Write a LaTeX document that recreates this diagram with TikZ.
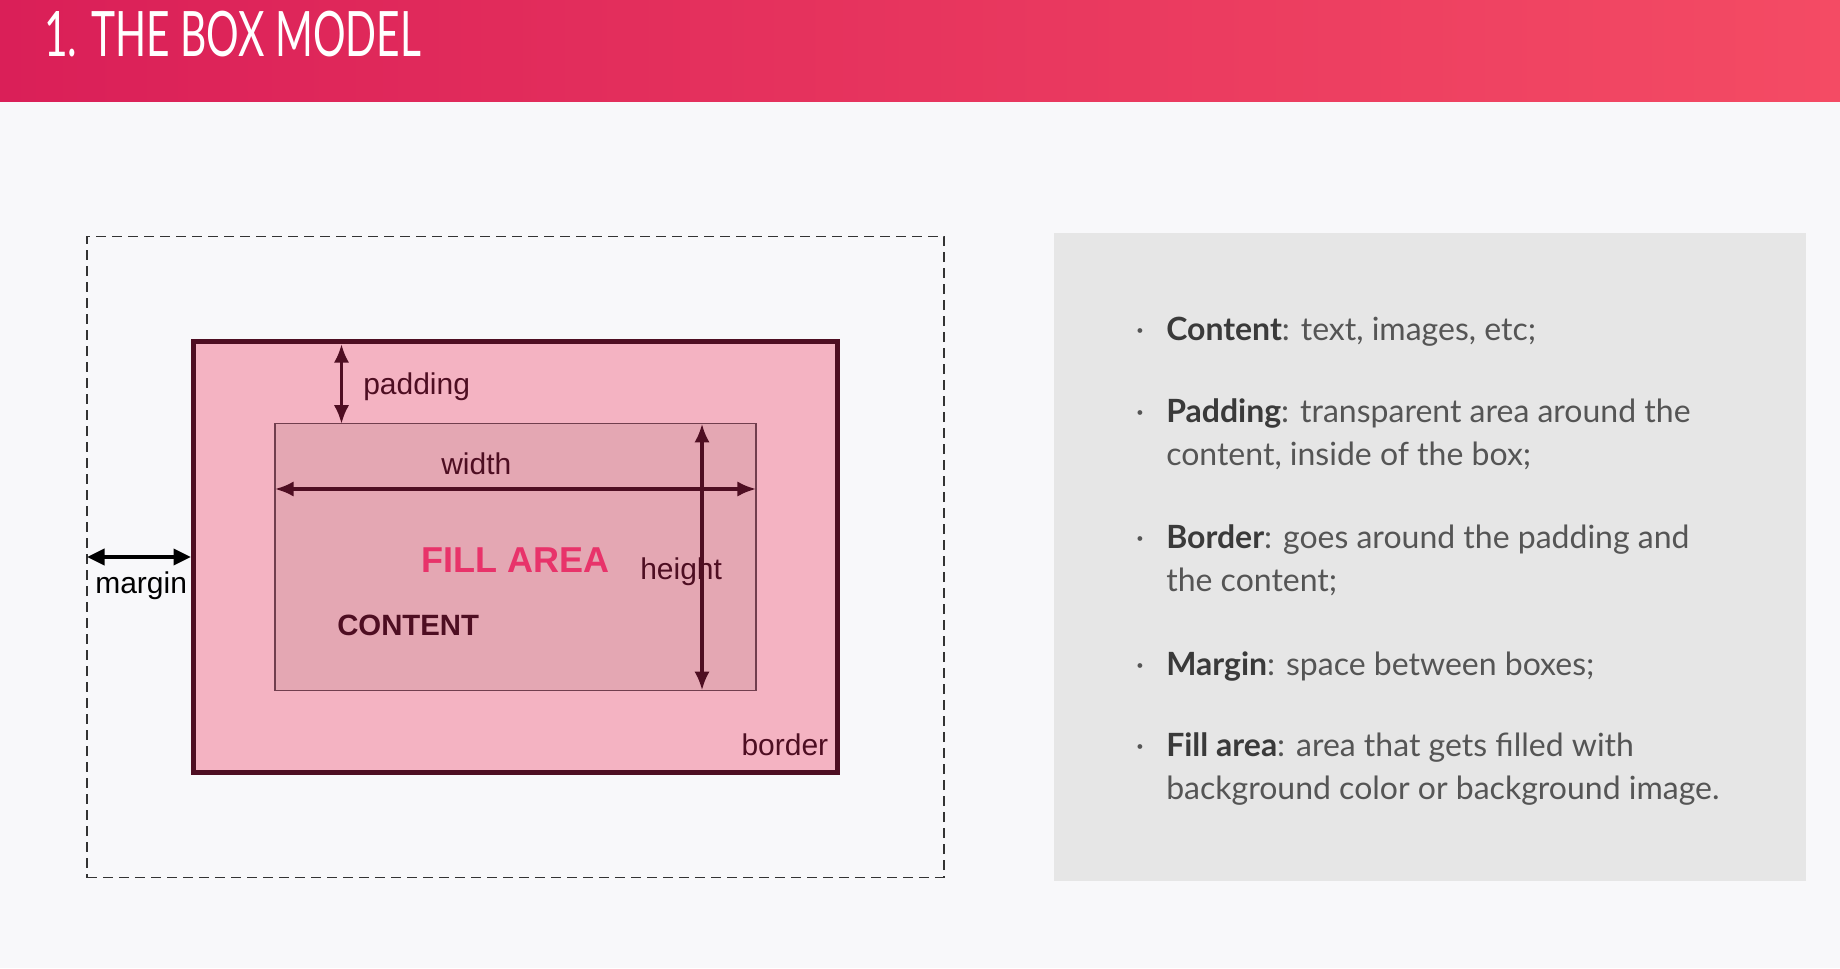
\documentclass[tikz,border=0pt]{standalone}
\usepackage{fontspec}
\usepackage{tikz}
\usetikzlibrary{arrows.meta}
\setmainfont{Liberation Sans}
\newfontfamily\listfont{Lato}
\newfontfamily\titlefont{Lato}[FakeStretch=0.65]

\definecolor{pagebg}{HTML}{F8F8FA}
\definecolor{hdrleft}{HTML}{DA1F58}
\definecolor{hdrright}{HTML}{F44B64}
\definecolor{panelgray}{HTML}{E6E6E6}
\definecolor{borderpink}{HTML}{F4B3C2}
\definecolor{contentpink}{HTML}{E4A7B3}
\definecolor{boxmaroon}{HTML}{4E0E22}
\definecolor{fillred}{HTML}{E8336A}
\definecolor{listgray}{HTML}{555555}
\definecolor{listdark}{HTML}{3A3A3A}

\begin{document}
\begin{tikzpicture}[x=0.75pt,y=0.75pt,yscale=-1,xscale=1,
    marginbox/.style={draw=black!80, line width=1.4pt, dash pattern=on 7.5pt off 4.5pt, minimum width=642.5pt, minimum height=480.8pt, inner sep=0pt, outer sep=0pt},
    borderbox/.style={fill=borderpink, draw=boxmaroon, line width=3.5pt, minimum width=483.3pt, minimum height=322.9pt, inner sep=0pt, outer sep=0pt},
    contentbox/.style={fill=contentpink, draw=boxmaroon!80, line width=1pt, minimum width=360.8pt, minimum height=199.8pt, inner sep=0pt, outer sep=0pt},
    dimarrow/.style={draw=boxmaroon, line width=2.4pt, {Latex[length=14pt,width=11.5pt]}-{Latex[length=14pt,width=11.5pt]}},
    marginarrow/.style={draw=black, line width=2.6pt, {Triangle[length=13pt,width=12pt]}-{Triangle[length=13pt,width=12pt]}},
    dimlabel/.style={font=\fontsize{22.5}{27}\selectfont, text=boxmaroon, inner sep=0pt},
    itemtext/.style={anchor=base west, inner sep=0pt, text=listgray, font=\listfont\fontsize{24}{31.6}\selectfont},
    dotmark/.style={anchor=base, inner sep=0pt, text=listgray, font=\listfont\fontsize{24}{31.6}\selectfont}
]
\useasboundingbox (0,0) rectangle (1840,968);
\fill[pagebg] (0,0) rectangle (1840,968);

% header
\shade[left color=hdrleft, right color=hdrright] (0,0) rectangle (1840,101);
\node[anchor=base west, inner sep=0pt, text=white, font=\titlefont\fontsize{47}{50}\selectfont] (title) at (44,56.7) {1. THE BOX MODEL};

% box model
\coordinate (mid) at (515.5,557);
\node[marginbox] (marginbox) at (mid) {};
\node[borderbox] (borderbox) at (mid) {};
\node[contentbox] (contentbox) at (mid) {};

\coordinate (padx) at (341.5,0);
\coordinate (widy) at (0,489);
\coordinate (heix) at (702,0);
\draw[dimarrow, shorten <=1.75pt] (borderbox.north -| padx) -- (contentbox.north -| padx);
\draw[dimarrow] (contentbox.west |- widy) -- (contentbox.east |- widy);
\draw[dimarrow] (contentbox.north -| heix) -- (contentbox.south -| heix);
\draw[marginarrow, shorten >=1.75pt] (marginbox.west) -- (borderbox.west);

\node[dimlabel, anchor=base west] (padlabel) at (363,394) {padding};
\node[dimlabel, anchor=base west] (widlabel) at (441,474) {width};
\node[dimlabel, anchor=base west] (heilabel) at (640,579) {height};
\node[dimlabel, anchor=base west, text=black] (marlabel) at (95,593) {margin};
\node[dimlabel, anchor=base east] (borlabel) at (828.5,755) {border};
\node[anchor=base west, inner sep=0pt, text=fillred, font=\bfseries\fontsize{27}{30}\selectfont] (filllabel) at (421,572) {FILL AREA};
\node[anchor=base west, inner sep=0pt, text=boxmaroon, font=\bfseries\fontsize{22}{26}\selectfont] (conlabel) at (337,635) {CONTENT};

% list
\fill[panelgray] (1054,232.5) rectangle (1806,880.5);
\foreach \y [count=\i] in {340,422.7,548,675,756.7}
    \node[dotmark] (dot\i) at (1140,\y) {·};
\node[itemtext] (item1) at (1166,340) {\textbf{\color{listdark}Content}: text, images, etc;};
\node[itemtext] (item2) at (1166,422.7) {\textbf{\color{listdark}Padding}: transparent area around the};
\node[itemtext] (item2b) at (1166,465) {content, inside of the box;};
\node[itemtext] (item3) at (1166,548) {\textbf{\color{listdark}Border}: goes around the padding and};
\node[itemtext] (item3b) at (1166,591.7) {the content;};
\node[itemtext] (item4) at (1166,675) {\textbf{\color{listdark}Margin}: space between boxes;};
\node[itemtext] (item5) at (1166,756.7) {\textbf{\color{listdark}Fill area}: area that gets filled with};
\node[itemtext] (item5b) at (1166,799.3) {background color or background image.};
\end{tikzpicture}
\end{document}
